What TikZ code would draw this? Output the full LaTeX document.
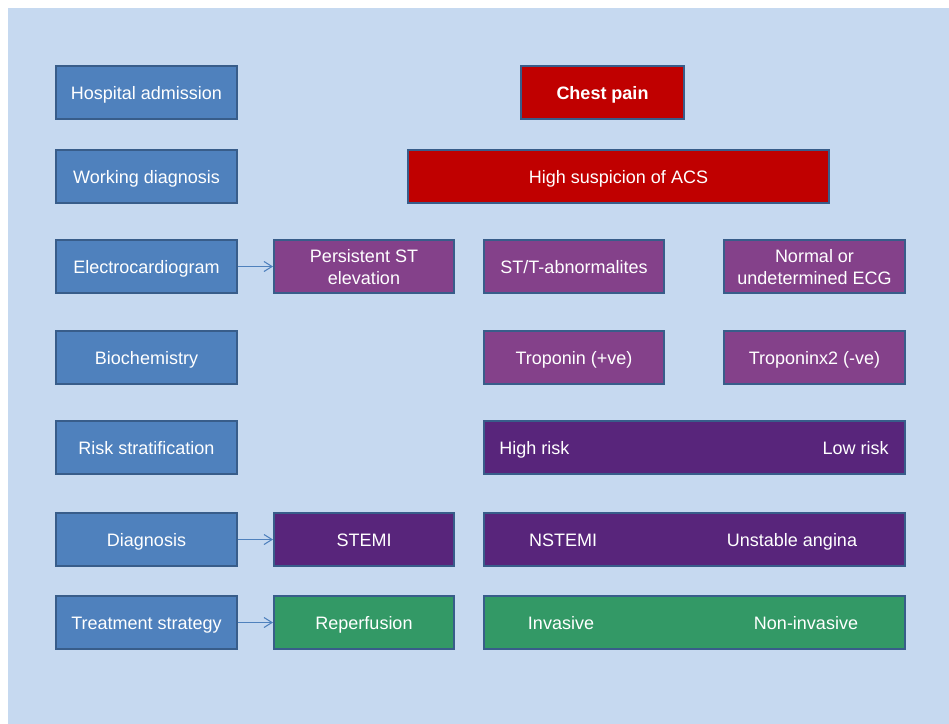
\documentclass[tikz,border=0pt]{standalone}
\usepackage{fontspec}
\setmainfont{Liberation Sans}
\usepackage{tikz}
\usetikzlibrary{arrows,arrows.meta,positioning,calc}
\definecolor{bgblue}{RGB}{198,217,240}
\definecolor{rowblue}{RGB}{79,129,189}
\definecolor{edgeblue}{RGB}{56,93,138}
\definecolor{acsred}{RGB}{192,0,0}
\definecolor{ecgpurple}{RGB}{132,65,138}
\definecolor{dxpurple}{RGB}{88,37,123}
\definecolor{rxgreen}{RGB}{51,153,102}

\begin{document}
\begin{tikzpicture}[x=0.75pt,y=-0.75pt,>={Straight Barb[length=6pt,width=7.5pt]}]
	\tikzstyle{every node}=[font=\fontsize{13.5}{16.5}\selectfont,text=white,inner sep=0pt,text height=11.2pt,text depth=0pt]
	\tikzstyle{box}=[draw=edgeblue,line width=1.5pt,minimum width=135pt,minimum height=39.75pt,align=center]
	\tikzstyle{twoline}=[text height=27.7pt]
	\tikzstyle{rowbox}=[box,fill=rowblue,minimum width=135.75pt]
	\tikzstyle{redbox}=[box,fill=acsred]
	\tikzstyle{ecgbox}=[box,fill=ecgpurple]
	\tikzstyle{dxbox}=[box,fill=dxpurple]
	\tikzstyle{rxbox}=[box,fill=rxgreen]
	\tikzstyle{wide}=[minimum width=315.75pt]
	\tikzstyle{link}=[->,draw=rowblue,line width=0.8pt]
	\useasboundingbox (0,0) rectangle (949,724);
	\fill[bgblue] (8,8) rectangle (949,724);
	
	% row titles
	\node[rowbox] (admit)     at (146.5,92.5)  {Hospital admission};
	\node[rowbox] (workdx)    at (146.5,176.5) {Working diagnosis};
	\node[rowbox] (ecg)       at (146.5,266.5) {Electrocardiogram};
	\node[rowbox] (biochem)   at (146.5,357.5) {Biochemistry};
	\node[rowbox] (riskstrat) at (146.5,447.5) {Risk stratification};
	\node[rowbox] (diag)      at (146.5,539.5) {Diagnosis};
	\node[rowbox] (treat)     at (146.5,622.5) {Treatment strategy};
	
	\node[redbox,minimum width=122.25pt] (pain) at (602.5,92.5) {\bfseries Chest pain};
	\node[redbox,wide] (acs) at (618.5,176.5) {High suspicion of ACS};
	
	\node[ecgbox,twoline] (stelev) at (364,266.5) {Persistent ST\\elevation};
	\node[ecgbox] (stt)    at (574,266.5) {ST/T-abnormalites};
	\node[ecgbox,twoline,minimum width=135.75pt] (normecg) at (814.5,266.5) {Normal or\\undetermined ECG};
	\node[ecgbox] (tropos) at (574,357.5) {Troponin (+ve)};
	\node[ecgbox,minimum width=135.75pt] (troneg) at (814.5,357.5) {Troponinx2 (-ve)};
	
	\node[dxbox,wide] (risk) at (694.5,447.5) {};
	\node[anchor=west] (highrisk) at (499,447.5) {High risk};
	\node[anchor=east] (lowrisk)  at (889,447.5) {Low risk};
	
	\node[dxbox] (stemi) at (364,539.5) {STEMI};
	\node[dxbox,wide] (acsdx) at (694.5,539.5) {};
	\node (nstemi)   at (563,539.5) {NSTEMI};
	\node (unstable) at (792,539.5) {Unstable angina};
	
	\node[rxbox] (reperf) at (364,622.5) {Reperfusion};
	\node[rxbox,wide] (strategy) at (694.5,622.5) {};
	\node (invasive)    at (561,622.5) {Invasive};
	\node (noninvasive) at (806,622.5) {Non-invasive};
	
	\path[link] (ecg) edge (stelev)
		(diag) edge (stemi)
		(treat) edge (reperf);
\end{tikzpicture}
\end{document}
